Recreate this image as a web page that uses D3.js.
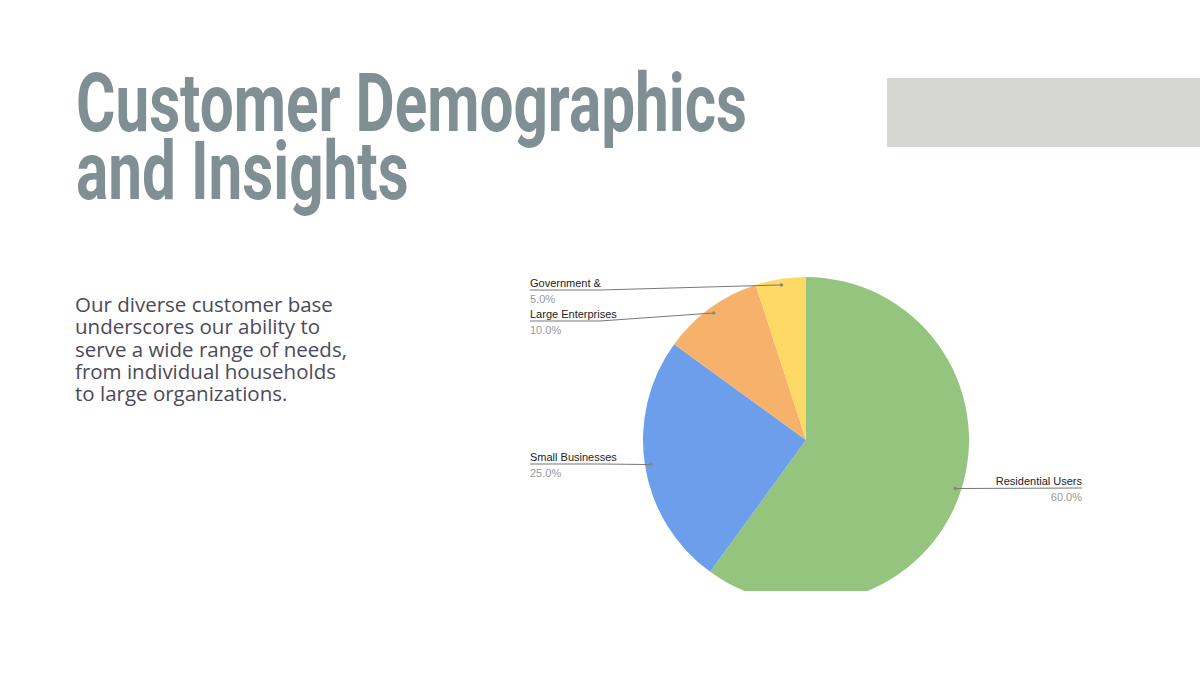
<!DOCTYPE html>
<html><head><meta charset="utf-8">
<script src="https://cdn.jsdelivr.net/npm/d3@7"></script>
<style>body{margin:0;background:#fff}svg{display:block}</style>
</head><body>
<svg id="c" width="1200" height="675"></svg>
<script>
const categories = ["Residential Users","Small Businesses","Large Enterprises","Government &"];
const values = [60,25,10,5];
const colors = ["#94c47d","#6d9eeb","#f6b26b","#ffd966"];
const titleLines = ["Customer Demographics","and Insights"];
const bodyLines = ["Our diverse customer base","underscores our ability to","serve a wide range of needs,","from individual households","to large organizations."];

const svg = d3.select("#c");
svg.append("rect").attr("x",887).attr("y",78).attr("width",313).attr("height",69).attr("fill","#d6d7d2");

titleLines.forEach((t,i)=>{
  svg.append("text").attr("transform",`translate(76,${131+i*68}) scale(0.735,1)`)
    .attr("font-family","Roboto").attr("font-weight",700).attr("font-size",82)
    .attr("fill","#7f8f94").text(t);
});
bodyLines.forEach((t,i)=>{
  svg.append("text").attr("x",75).attr("y",312+i*22.3)
    .attr("font-family","'Open Sans'").attr("font-size",20.5)
    .attr("fill","#4a4a5a").text(t);
});

const cx=806, cy=440, R=163;
svg.append("clipPath").attr("id","clip").append("rect").attr("x",0).attr("y",0).attr("width",1200).attr("height",591);
const outer = svg.append("g").attr("clip-path","url(#clip)");
const g = outer.append("g").attr("transform",`translate(${cx},${cy})`);
const pie = d3.pie().sort(null).value(d=>d)(values);
const arc = d3.arc().innerRadius(0).outerRadius(R);
const inArc = d3.arc().innerRadius(157).outerRadius(157);
g.selectAll("path").data(pie).join("path").attr("d",arc).attr("fill",(d,i)=>colors[i]);

const labelY = [481,457,314,283];
const side = ["right","left","left","left"];
pie.forEach((d,i)=>{
  const [px,py] = inArc.centroid(d);
  const ax = cx+px, ay = cy+py;
  const ly = labelY[i]+7;
  const lg = svg.append("g");
  if(side[i]==="left"){
    lg.append("path").attr("d",`M530,${ly}L600,${ly}L${ax},${ay}`).attr("fill","none").attr("stroke","#777").attr("stroke-width",1);
  } else {
    lg.append("path").attr("d",`M${ax},${ay}L1082,${ly}`).attr("fill","none").attr("stroke","#777").attr("stroke-width",1);
  }
  lg.append("circle").attr("cx",ax).attr("cy",ay).attr("r",1.8).attr("fill","#888");
  const x = side[i]==="left"?530:1082, anc = side[i]==="left"?"start":"end";
  lg.append("text").attr("x",x).attr("y",labelY[i]+4).attr("text-anchor",anc)
    .attr("font-family","Arial, 'Liberation Sans'").attr("font-size",11).attr("fill","#222").text(categories[i]);
  lg.append("text").attr("x",x).attr("y",labelY[i]+20).attr("text-anchor",anc)
    .attr("font-family","Arial, 'Liberation Sans'").attr("font-size",11).attr("fill","#999")
    .text(d3.format(".1f")(values[i]/d3.sum(values)*100)+"%");
});
</script></body></html>
